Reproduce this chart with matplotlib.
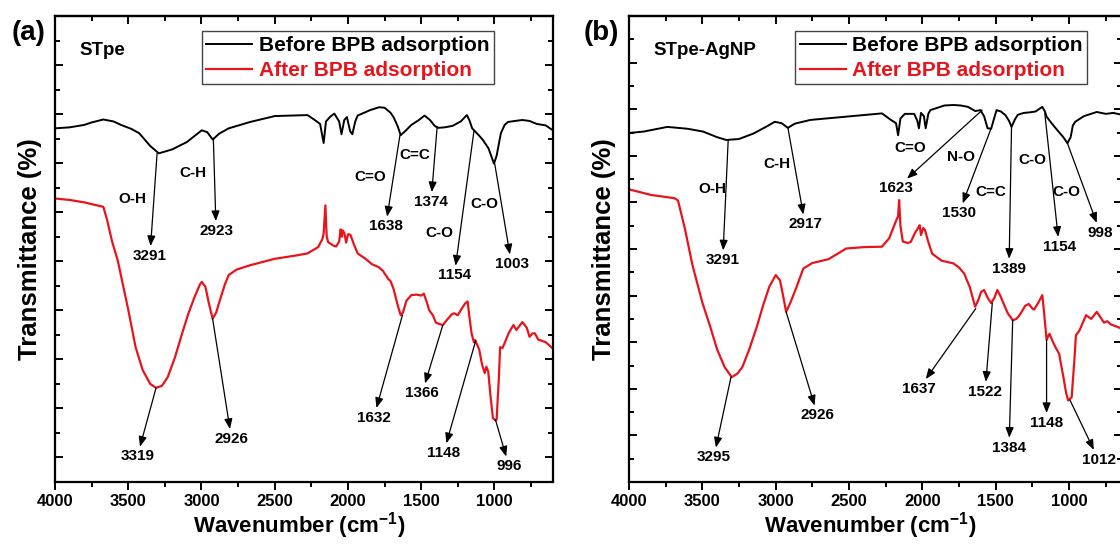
import matplotlib
matplotlib.use("Agg")
import matplotlib.pyplot as plt
from matplotlib.ticker import MultipleLocator, NullFormatter

plt.rcParams['font.family'] = ['Liberation Sans', 'DejaVu Sans']
plt.rcParams['font.weight'] = 'bold'
plt.rcParams['mathtext.fontset'] = 'custom'
plt.rcParams['mathtext.bf'] = 'Liberation Sans:bold'
plt.rcParams['mathtext.rm'] = 'Liberation Sans:bold'
plt.rcParams['mathtext.default'] = 'bf'

# ---- panel (a) STpe spectra (wavenumber, transmittance in arbitrary %) ----
wn_a_before = [4000, 3900, 3800, 3750, 3670, 3600, 3550, 3480, 3425, 3350, 3291, 3200, 3100, 2998,
               2960, 2923, 2880, 2814, 2667, 2500, 2276, 2227, 2190, 2166, 2150, 2120, 2093, 2060,
               2044, 2025, 2007, 1985, 1970, 1950, 1934, 1850, 1787, 1750, 1710, 1689, 1660, 1640,
               1610, 1567, 1520, 1477, 1440, 1408, 1384, 1340, 1286, 1230, 1188, 1170, 1152, 1110,
               1078, 1040, 1003, 985, 956, 930, 907, 860, 809, 760, 711, 650, 601]
t_a_before = [77.1, 77.3, 77.8, 78.3, 78.9, 78.5, 77.8, 77.0, 76.1, 73.5, 72.0, 72.8, 74.3, 76.7,
              76.3, 74.8, 76.0, 77.1, 78.4, 79.6, 79.8, 78.8, 78.0, 74.1, 78.5, 79.5, 80.1, 78.5,
              75.9, 78.8, 79.4, 76.5, 75.9, 78.5, 79.7, 80.8, 81.4, 81.3, 80.3, 79.4, 77.5, 75.7,
              76.5, 77.8, 78.7, 79.7, 78.8, 77.6, 77.2, 77.3, 77.6, 78.5, 79.8, 78.7, 77.1, 75.8,
              74.7, 73.0, 69.9, 71.5, 76.1, 77.8, 78.4, 78.6, 78.8, 78.6, 78.0, 77.7, 76.7]

wn_a_after = [4000, 3900, 3800, 3700, 3670, 3645, 3610, 3572, 3499, 3450, 3401, 3350, 3310, 3270,
              3230, 3180, 3132, 3090, 3046, 3010, 2998, 2973, 2950, 2924, 2900, 2875, 2840, 2814,
              2760, 2667, 2500, 2350, 2276, 2203, 2175, 2166, 2154, 2145, 2135, 2100, 2081, 2060,
              2050, 2042, 2037, 2025, 2012, 2000, 1983, 1960, 1934, 1880, 1836, 1790, 1760, 1750,
              1735, 1726, 1710, 1689, 1660, 1640, 1625, 1600, 1567, 1530, 1500, 1482, 1460, 1445,
              1420, 1400, 1384, 1352, 1320, 1290, 1274, 1250, 1220, 1200, 1183, 1170, 1156, 1140,
              1132, 1115, 1103, 1085, 1066, 1055, 1042, 1025, 1010, 995, 985, 970, 961, 945, 932,
              900, 870, 850, 809, 780, 760, 740, 724, 700, 687, 650, 601]
t_a_after = [62.8, 62.5, 62.0, 61.3, 61.1, 58.5, 54.0, 50.2, 40.0, 32.5, 27.8, 25.0, 24.2, 24.6,
             26.4, 30.5, 35.3, 39.3, 42.8, 45.3, 45.8, 44.8, 41.5, 38.3, 39.5, 42.0, 45.3, 47.2,
             48.3, 49.2, 50.5, 51.2, 51.6, 52.9, 54.5, 55.6, 61.4, 55.0, 53.9, 53.2, 53.0, 54.0,
             56.5, 55.0, 56.3, 55.8, 53.8, 55.5, 55.4, 53.5, 51.6, 50.5, 49.4, 48.8, 48.0, 47.5,
             46.9, 46.4, 46.0, 44.4, 41.0, 39.0, 39.5, 42.0, 43.1, 43.2, 43.0, 43.4, 41.5, 40.0,
             39.0, 37.5, 37.3, 37.0, 38.2, 39.2, 39.4, 39.0, 40.5, 41.4, 41.8, 38.5, 35.3, 33.5,
             33.9, 32.8, 31.9, 29.0, 27.2, 28.5, 27.5, 22.0, 18.0, 17.6, 17.7, 26.0, 32.5, 32.3, 33.2,
             35.5, 37.0, 36.0, 37.6, 36.5, 34.6, 35.3, 35.3, 34.0, 33.9, 33.5, 32.2]

# ---- panel (b) STpe-AgNP spectra ----
wn_b_before = [4000, 3900, 3739, 3600, 3495, 3400, 3337, 3251, 3150, 3050, 3007, 2960, 2917, 2870,
               2763, 2520, 2276, 2215, 2180, 2166, 2150, 2120, 2056, 2035, 2024, 2010, 1990, 1978,
               1960, 1946, 1850, 1788, 1740, 1690, 1640, 1605, 1580, 1556, 1532, 1510, 1495, 1465,
               1434, 1410, 1393, 1370, 1350, 1310, 1276, 1230, 1183, 1165, 1154, 1120, 1081, 1040,
               1012, 990, 975, 959, 900, 812, 750, 700, 640]
t_b_before = [74.9, 75.2, 76.2, 75.8, 75.2, 74.0, 73.4, 73.6, 74.8, 76.5, 77.3, 77.0, 76.0, 76.9,
              77.7, 78.4, 79.1, 77.7, 77.0, 74.4, 78.0, 79.0, 79.0, 77.5, 75.9, 79.2, 78.5, 75.9,
              79.0, 79.8, 80.8, 80.9, 80.8, 80.5, 79.6, 79.8, 78.5, 75.9, 75.8, 78.2, 79.8, 79.5,
              78.7, 77.5, 76.2, 77.8, 78.8, 79.2, 79.3, 79.5, 80.5, 79.5, 78.4, 77.0, 75.5, 74.0,
              72.7, 74.0, 76.5, 77.3, 78.5, 79.4, 79.0, 79.2, 78.8]

wn_b_after = [4000, 3850, 3690, 3666, 3620, 3568, 3500, 3446, 3400, 3349, 3300, 3260, 3227, 3180,
              3129, 3085, 3044, 3000, 2971, 2950, 2929, 2900, 2861, 2812, 2750, 2641, 2520, 2400,
              2276, 2227, 2178, 2166, 2159, 2150, 2134, 2100, 2080, 2050, 2030, 2019, 2010, 1995,
              1983, 1960, 1934, 1870, 1788, 1750, 1715, 1700, 1678, 1641, 1620, 1600, 1580, 1555,
              1532, 1510, 1490, 1470, 1446, 1420, 1385, 1360, 1336, 1300, 1276, 1250, 1239, 1210,
              1183, 1170, 1154, 1140, 1134, 1110, 1093, 1068, 1060, 1044, 1020, 1007, 983, 965,
              954, 930, 885, 850, 812, 790, 763, 740, 715, 690, 640]
t_b_after = [62.8, 61.6, 60.9, 60.4, 54.5, 46.6, 38.5, 33.3, 28.5, 24.7, 22.5, 23.3, 24.7, 28.5,
             33.3, 38.0, 41.9, 44.4, 43.3, 40.0, 36.5, 38.5, 41.6, 45.8, 47.0, 47.8, 50.1, 50.4,
             50.5, 52.3, 56.2, 57.0, 60.5, 55.0, 51.6, 51.3, 51.5, 53.5, 54.5, 55.1, 53.0, 54.5,
             54.1, 51.5, 49.0, 47.5, 46.9, 46.0, 44.7, 43.5, 41.9, 37.6, 39.0, 40.8, 41.2, 39.5,
             38.4, 39.5, 41.2, 40.0, 38.2, 36.3, 34.7, 35.0, 35.9, 37.8, 38.2, 37.2, 37.0, 38.5,
             40.1, 36.0, 30.5, 31.5, 31.8, 30.0, 28.9, 27.5, 26.0, 23.3, 19.0, 17.5, 18.2, 26.0,
             31.5, 32.5, 35.8, 35.0, 36.5, 35.5, 34.2, 34.5, 33.8, 33.5, 32.9]

# peak labels: text, peak position on the curve (wavenumber, T)
peaks_a_before = ["3291", "2923", "1638", "1374", "1154", "1003"]
peakpos_a_before = [(3303, 72.0), (2919, 75.1), (1645, 75.7), (1391, 77.4), (1139, 76.7), (998, 69.9)]
peaks_a_after = ["3319", "2926", "1632", "1366", "1148", "996"]
peakpos_a_after = [(3310, 24.2), (2924, 38.3), (1628, 39.0), (1352, 37.0), (1127, 33.9), (993, 17.7)]
bonds_a = ["O-H", "C-H", "C=O", "C=C", "C-O", "C-O"]

peaks_b_before = ["3291", "2917", "1623", "1530", "1389", "1154", "998"]
peakpos_b_before = [(3324, 73.4), (2917, 76.0), (1593, 79.8), (1532, 75.9), (1393, 76.2),
                    (1166, 79.1), (1012, 72.7)]
peaks_b_after = ["3295", "2926", "1637", "1522", "1384", "1148", "1012"]
peakpos_b_after = [(3305, 22.5), (2929, 36.5), (1637, 37.2), (1524, 38.4), (1385, 34.7),
                   (1154, 30.5), (995, 17.6)]
bonds_b = ["O-H", "C-H", "C=O", "N-O", "C=C", "C-O", "C-O"]

# layout: where the labels sit
lab_a_before = [(3352, 51.1), (2900, 56.2), (1743, 57.1), (1433, 62.1), (1274, 47.1), (883, 49.4)]
lab_a_after = [(3438, 10.2), (2795, 13.8), (1824, 18.1), (1494, 23.1), (1347, 10.9), (900, 8.2)]
bond_a_pos = [(3474, 62.7), (3059, 68.0), (1848, 67.2), (1543, 71.6), (1376, 55.7), (1066, 61.7)]

lab_b_before = [(3361, 47.6), (2800, 55.3), (2178, 63.0), (1751, 57.7), (1410, 45.8),
                (1068, 50.5), (788, 53.5)]
lab_b_after = [(3422, 5.3), (2715, 14.3), (2024, 20.0), (1573, 19.4), (1410, 7.4), (1154, 12.7),
               (800, 4.8)]
bond_b_pos = [(3434, 62.8), (2995, 68.3), (2081, 71.6), (1739, 69.8), (1532, 62.3), (1251, 69.1),
              (1020, 62.3)]

W, H = 1120, 546
fig = plt.figure(figsize=(W / 100, H / 100), dpi=100)


def make_axes(left, right, top, bottom):
    return fig.add_axes([left / W, 1 - bottom / H, (right - left) / W, (bottom - top) / H])


def style_axes(ax, ylim, xright):
    ax.set_xlim(4000, xright)
    ax.set_ylim(*ylim)
    ax.xaxis.set_major_locator(MultipleLocator(500))
    ax.xaxis.set_minor_locator(MultipleLocator(250))
    ax.yaxis.set_major_locator(MultipleLocator(10))
    ax.yaxis.set_minor_locator(MultipleLocator(5))
    ax.yaxis.set_major_formatter(NullFormatter())
    for sp in ax.spines.values():
        sp.set_linewidth(1.6)
    ax.tick_params(axis='x', which='both', direction='out', top=False, width=1.4,
                   labelsize=12, pad=3)
    ax.tick_params(axis='x', which='major', length=6)
    ax.tick_params(axis='x', which='minor', length=3.5)
    ax.tick_params(axis='y', which='both', direction='in', left=True, right=True, width=1.4)
    ax.tick_params(axis='y', which='major', length=6)
    ax.tick_params(axis='y', which='minor', length=3.5)
    # inward ticks on the top edge
    sec = ax.secondary_xaxis('top')
    sec.xaxis.set_major_locator(MultipleLocator(500))
    sec.xaxis.set_minor_locator(MultipleLocator(250))
    sec.tick_params(axis='x', which='both', direction='in', width=1.4, labeltop=False)
    sec.tick_params(axis='x', which='major', length=6)
    sec.tick_params(axis='x', which='minor', length=3.5)
    sec.spines['top'].set_linewidth(1.6)
    ax.set_xlabel('Wavenumber (cm$^{-1}$)', fontsize=16, fontweight='bold')
    ax.xaxis.set_label_coords(0.49, -0.06)
    ax.set_ylabel('Transmittance (%)', fontsize=18.5, fontweight='bold')
    ax.yaxis.set_label_coords(-0.026, 0.5)


def annotate_peaks(ax, labels, points, positions):
    for lab, pt, pos in zip(labels, points, positions):
        ax.annotate(lab, xy=pt, xytext=pos, ha='center', va='center', fontsize=11,
                    fontweight='bold',
                    arrowprops=dict(arrowstyle='<|-,head_length=0.55,head_width=0.22',
                                    color='black', lw=0.9, shrinkA=0, shrinkB=0))


def draw_panel(ax, wb, tb, wa, ta, name, legend_x):
    l1, = ax.plot(wb, tb, color='black', lw=1.4)
    l2, = ax.plot(wa, ta, color='#e8141b', lw=1.6)
    leg = ax.legend([l1, l2], ['Before BPB adsorption', 'After BPB adsorption'],
                    loc='upper left', bbox_to_anchor=(legend_x, 0.967), fontsize=15,
                    frameon=True, fancybox=False, edgecolor='#444444', framealpha=1,
                    handlelength=2.2, handletextpad=0.3, borderpad=0.22, labelspacing=0.28,
                    borderaxespad=0)
    leg.get_frame().set_linewidth(1.0)
    leg.get_texts()[1].set_color('#e8141b')
    ax.text(0.05, 0.925, name, transform=ax.transAxes, fontsize=13.5, fontweight='bold',
            va='center', ha='left')


ax1 = make_axes(55, 553, 16, 482)
style_axes(ax1, (5, 100), 600)
draw_panel(ax1, wn_a_before, t_a_before, wn_a_after, t_a_after, 'STpe', 0.295)
annotate_peaks(ax1, peaks_a_before, peakpos_a_before, lab_a_before)
annotate_peaks(ax1, peaks_a_after, peakpos_a_after, lab_a_after)
for b, pos in zip(bonds_a, bond_a_pos):
    ax1.text(pos[0], pos[1], b, ha='center', va='center', fontsize=11, fontweight='bold')

ax2 = make_axes(629, 1122, 16, 482)
style_axes(ax2, (0, 100), 640)
draw_panel(ax2, wn_b_before, t_b_before, wn_b_after, t_b_after, 'STpe-AgNP', 0.337)
annotate_peaks(ax2, peaks_b_before, peakpos_b_before, lab_b_before)
annotate_peaks(ax2, peaks_b_after, peakpos_b_after, lab_b_after)
for b, pos in zip(bonds_b, bond_b_pos):
    ax2.text(pos[0], pos[1], b, ha='center', va='center', fontsize=11, fontweight='bold')

fig.text(29 / W, 1 - 33 / H, '(a)', fontsize=20, fontweight='bold', ha='center', va='center')
fig.text(601 / W, 1 - 33 / H, '(b)', fontsize=20, fontweight='bold', ha='center', va='center')

fig.savefig('out.png', dpi=100)
